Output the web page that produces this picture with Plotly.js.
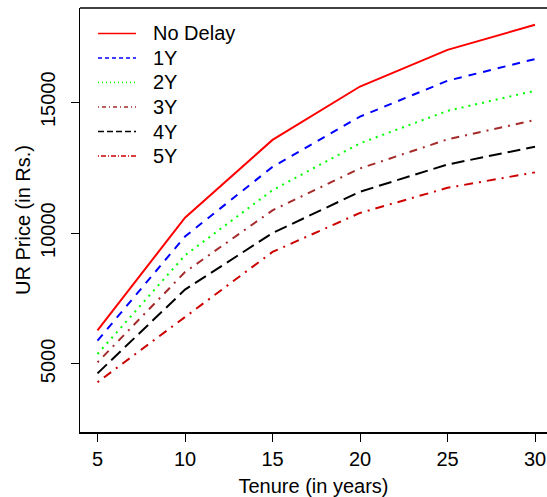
<!DOCTYPE html>
<html><head><meta charset="utf-8">
<script src="https://cdn.plot.ly/plotly-3.0.1.min.js"></script>
<style>html,body{margin:0;padding:0;background:#fff}#chart{width:547px;height:497px}</style>
</head><body><div id="chart"></div>
<script>
const tenure = [5, 10, 15, 20, 25, 30];
const seriesNames = ["No Delay", "1Y", "2Y", "3Y", "4Y", "5Y"];
const noDelay = [6280, 10590, 13560, 15600, 17000, 17960];
const delay1Y = [5890, 9870, 12530, 14450, 15820, 16650];
const delay2Y = [5380, 9150, 11640, 13430, 14670, 15440];
const delay3Y = [5060, 8510, 10870, 12470, 13580, 14320];
const delay4Y = [4640, 7840, 10000, 11580, 12620, 13300];
const delay5Y = [4300, 6790, 9280, 10770, 11730, 12320];
const xTicks = [5, 10, 15, 20, 25, 30];
const yTicks = [5000, 10000, 15000];

const allSeries = [noDelay, delay1Y, delay2Y, delay3Y, delay4Y, delay5Y];
const colors = ["#FF0000", "#0000FF", "#00FF00", "#A52A2A", "#000000", "#CD0000"];
const dashes = ["solid", "8px,7px", "2px,5px", "2px,6px,8px,6px", "13px,6px", "2px,6px,9px,6px"];
const legendDashes = ["solid", "4px,3px", "1px,3px", "1px,3px,4px,3px", "6px,3px", "1px,2px,5px,2px"];

const traces = allSeries.map((ys, i) => ({
  x: tenure, y: ys, name: seriesNames[i], type: "scatter", mode: "lines",
  line: {color: colors[i], width: 2, dash: dashes[i]}, showlegend: false
}));

// plot area geometry (pixels) for a manual R-style legend
const W = 547, H = 497, ML = 80, MT = 8, MB = 65;
const PW = W - ML, PH = H - MT - MB;
const px = v => (v - ML) / PW;
const py = v => (H - MB - v) / PH;
const legTop = 33.5, legStep = 24.5, legX0 = 98, legX1 = 136, legText = 151;

const font = {family: "Liberation Sans, Arial, sans-serif", color: "#000"};
const shapes = [{type: "line", xref: "paper", yref: "paper", x0: 0, x1: 1, y0: 1, y1: 1,
                 line: {color: "#000", width: 1.5}}];
const annotations = [];
seriesNames.forEach((nm, i) => {
  const yy = py(legTop + i * legStep);
  shapes.push({type: "line", xref: "paper", yref: "paper", x0: px(legX0), x1: px(legX1), y0: yy, y1: yy,
               line: {color: colors[i], width: 1.5, dash: legendDashes[i]}});
  annotations.push({xref: "paper", yref: "paper", x: px(legText), y: yy, xanchor: "left", yanchor: "middle",
                    text: nm, showarrow: false, font: Object.assign({size: 20}, font)});
});

const layout = {
  width: W, height: H,
  margin: {l: ML, r: 0, t: MT, b: MB, pad: 0},
  paper_bgcolor: "#fff", plot_bgcolor: "#fff",
  font: Object.assign({size: 20}, font),
  showlegend: false,
  xaxis: {range: [4, 4 + PW / 17.5], tickvals: xTicks, ticktext: xTicks.map(String),
          showline: true, linecolor: "#000", linewidth: 1.5, ticks: "outside", ticklen: 8, tickwidth: 1,
          tickcolor: "#000", showgrid: false, zeroline: false,
          tickfont: Object.assign({size: 20}, font),
          title: {text: "Tenure (in years)", font: Object.assign({size: 20}, font), standoff: 12}},
  yaxis: {range: [2400, 18600], tickvals: yTicks, ticktext: yTicks.map(String),
          showline: true, linecolor: "#000", linewidth: 1.5, ticks: "outside", ticklen: 8, tickwidth: 1,
          tickcolor: "#000", showgrid: false, zeroline: false, tickangle: -90, ticklabelstandoff: 8,
          tickfont: Object.assign({size: 20}, font),
          title: {text: "UR Price (in Rs.)", font: Object.assign({size: 20}, font), standoff: 0}},
  shapes: shapes,
  annotations: annotations
};
Plotly.newPlot("chart", traces, layout, {displayModeBar: false, staticPlot: true});
</script></body></html>
